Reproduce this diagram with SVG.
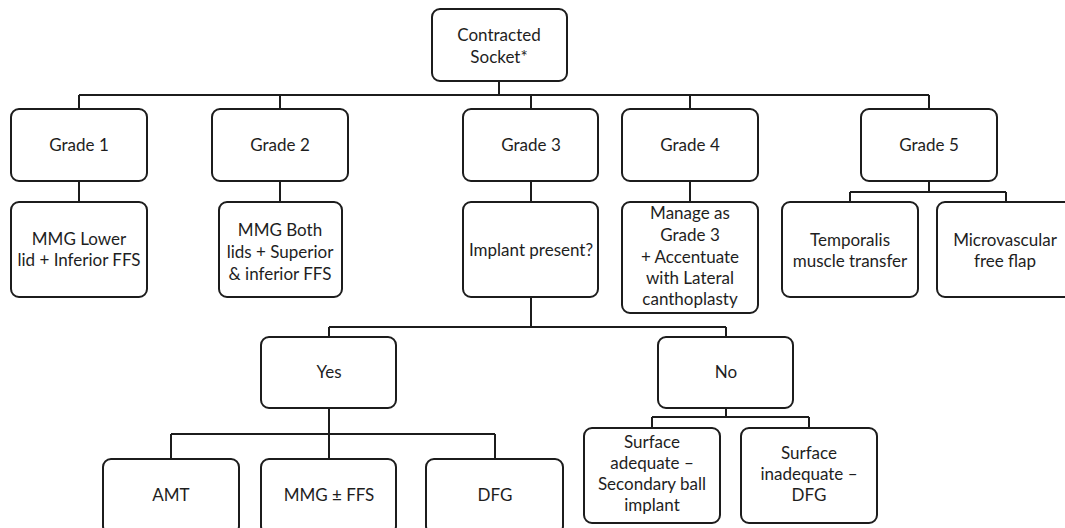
<svg xmlns="http://www.w3.org/2000/svg" width="1065" height="528" viewBox="0 0 1065 528">
<style>
.box{fill:#fff;stroke:#1c1c1c;stroke-width:2}
.ln{fill:none;stroke:#1c1c1c;stroke-width:2}
text{font-family:Lato,"Open Sans",sans-serif;font-size:17px;fill:#1e1e1e;text-anchor:middle}
</style>
<rect width="1065" height="528" fill="#fff"/>
<g id="connectors">
<path class="ln" d="M499 81V95M79 95H929M79 95V109M280 95V109M531 95V109M690 95V109M929 95V109"/>
<path class="ln" d="M79 181V202M280 181V202M531 181V202M690 181V202"/>
<path class="ln" d="M929 181V192M850 192H1006M850 192V202M1006 192V202"/>
<path class="ln" d="M531 297V327M329 327H726M329 327V337M726 327V337"/>
<path class="ln" d="M329 408V459M171 434H495M171 434V459M495 434V459"/>
<path class="ln" d="M726 408V417M652 417H809M652 417V428M809 417V428"/>
</g>
<g id="socket"><rect class="box" x="432" y="9" width="135" height="72" rx="8"/><text x="499" y="41">Contracted</text><text x="499" y="63">Socket*</text></g>
<g id="grade1"><rect class="box" x="11" y="109" width="136" height="72" rx="8"/><text x="79" y="151">Grade 1</text></g>
<g id="grade2"><rect class="box" x="212" y="109" width="136" height="72" rx="8"/><text x="280" y="151">Grade 2</text></g>
<g id="grade3"><rect class="box" x="463" y="109" width="135" height="72" rx="8"/><text x="531" y="151">Grade 3</text></g>
<g id="grade4"><rect class="box" x="622" y="109" width="136" height="72" rx="8"/><text x="690" y="151">Grade 4</text></g>
<g id="grade5"><rect class="box" x="861" y="109" width="136" height="72" rx="8"/><text x="929" y="151">Grade 5</text></g>
<g id="mmg-lower"><rect class="box" x="11" y="202" width="136" height="95" rx="8"/><text x="79" y="245">MMG Lower</text><text x="79" y="266">lid + Inferior FFS</text></g>
<g id="mmg-both"><rect class="box" x="219" y="202" width="123" height="95" rx="8"/><text x="280" y="236">MMG Both</text><text x="280" y="258">lids + Superior</text><text x="280" y="280">&amp; inferior FFS</text></g>
<g id="implant"><rect class="box" x="463" y="202" width="135" height="95" rx="8"/><text x="531" y="256">Implant present?</text></g>
<g id="manage"><rect class="box" x="622" y="202" width="136" height="111" rx="8"/><text x="690" y="219">Manage as</text><text x="690" y="241">Grade 3</text><text x="690" y="263">+ Accentuate</text><text x="690" y="284">with Lateral</text><text x="690" y="305">canthoplasty</text></g>
<g id="temporalis"><rect class="box" x="782" y="202" width="136" height="95" rx="8"/><text x="850" y="246">Temporalis</text><text x="850" y="267">muscle transfer</text></g>
<g id="microvascular"><rect class="box" x="937" y="202" width="136" height="95" rx="8"/><text x="1005" y="246">Microvascular</text><text x="1005" y="267">free flap</text></g>
<g id="yes"><rect class="box" x="261" y="337" width="135" height="71" rx="8"/><text x="329" y="378">Yes</text></g>
<g id="no"><rect class="box" x="658" y="337" width="135" height="71" rx="8"/><text x="726" y="378">No</text></g>
<g id="amt"><rect class="box" x="103" y="459" width="136" height="75" rx="8"/><text x="171" y="501">AMT</text></g>
<g id="mmg-ffs"><rect class="box" x="261" y="459" width="135" height="75" rx="8"/><text x="329" y="501">MMG ± FFS</text></g>
<g id="dfg"><rect class="box" x="426" y="459" width="137" height="75" rx="8"/><text x="495" y="501">DFG</text></g>
<g id="surface-adequate"><rect class="box" x="584" y="428" width="136" height="95" rx="8"/><text x="652" y="448">Surface</text><text x="652" y="469">adequate –</text><text x="652" y="490">Secondary ball</text><text x="652" y="511">implant</text></g>
<g id="surface-inadequate"><rect class="box" x="741" y="428" width="136" height="95" rx="8"/><text x="809" y="459">Surface</text><text x="809" y="480">inadequate –</text><text x="809" y="501">DFG</text></g>
</svg>
